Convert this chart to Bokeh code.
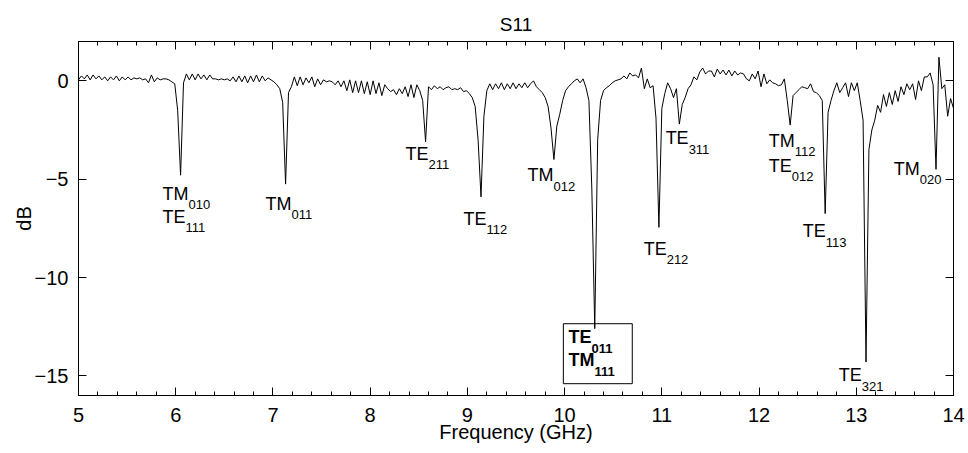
import numpy as np
from bokeh.plotting import figure
from bokeh.models import ColumnDataSource, LinearAxis, FixedTicker, Range1d, BoxAnnotation
from bokeh.embed import file_html
from bokeh.resources import INLINE
from bokeh.core.properties import value

# ---------------- data ----------------
# Swept S11 measurement: 301 points, 5.00 GHz to 14.00 GHz, 0.03 GHz step
freq_start_ghz = 5.0
freq_step_ghz = 0.03
s11_db = [
    # 5.00
    0.05, 0.25, 0.1, 0.3, 0.05, 0.3, 0.1, 0.25, 0.05, 0.2,
    # 5.30
    0.0, 0.2, 0.05, 0.25, 0.0, 0.2, 0.05, 0.2, 0.05, 0.15,
    # 5.60
    0.1, 0.15, 0.05, 0.1, -0.1, 0.3, -0.05, 0.15, 0.05, 0.1,
    # 5.90
    0.1, 0.05, -0.05, -0.15, -1.5, -4.8, -0.1, 0.35, 0.05, 0.35,
    # 6.20
    0.05, 0.35, 0.1, 0.3, 0.05, 0.3, 0.1, 0.1, 0.05, 0.1,
    # 6.50
    0.05, 0.1, 0.0, 0.2, -0.05, 0.25, -0.05, 0.25, -0.1, 0.25,
    # 6.80
    -0.05, 0.3, -0.05, 0.25, 0.0, 0.15, 0.05, -0.05, -0.2, -0.4,
    # 7.10
    -1.1, -5.25, -0.6, -0.3, 0.2, -0.25, 0.2, -0.2, 0.15, -0.1,
    # 7.40
    0.2, -0.3, 0.1, -0.2, 0.05, -0.05, 0.0, -0.05, -0.2, 0.0,
    # 7.70
    -0.3, 0.0, -0.5, 0.05, -0.6, 0.0, -0.6, 0.0, -0.65, -0.05,
    # 8.00
    -0.7, 0.0, -0.65, -0.1, -0.75, -0.2, -0.4, -0.55, -0.45, -0.7,
    # 8.30
    -0.4, -0.65, -0.3, -0.8, -0.2, -0.85, -0.2, -0.5, -1.0, -3.1,
    # 8.60
    -0.3, -0.45, -0.25, -0.4, -0.3, -0.45, -0.35, -0.3, -0.45, -0.4,
    # 8.90
    -0.45, -0.35, -0.55, -0.5, -0.65, -0.85, -1.3, -3.0, -5.9, -1.8,
    # 9.20
    -0.5, -0.15, -0.45, -0.15, -0.4, -0.1, -0.45, -0.15, -0.4, -0.1,
    # 9.50
    -0.4, -0.15, -0.35, -0.1, -0.35, -0.15, 0.0, -0.3, -0.45, -0.6,
    # 9.80
    -0.85, -1.3, -2.4, -4.0, -2.3, -1.7, -1.0, -0.5, -0.3, -0.15,
    # 10.10
    0.0, 0.1, -0.1, 0.1, -0.35, -1.0, -5.5, -12.6, -3.0, -1.0,
    # 10.40
    -0.5, -0.35, -0.25, -0.1, 0.0, 0.05, 0.1, 0.25, 0.1, 0.4,
    # 10.70
    0.25, 0.3, 0.15, 0.65, -0.4, 0.1, -0.35, -0.25, -1.9, -7.45,
    # 11.00
    -1.4, -0.65, -0.1, -0.4, -0.85, -0.4, -2.2, -1.2, -0.85, -0.4,
    # 11.30
    -0.2, 0.2, 0.05, 0.45, 0.65, 0.35, 0.5, 0.5, 0.2, 0.6,
    # 11.60
    0.35, 0.55, 0.3, 0.55, 0.25, 0.5, 0.3, 0.4, 0.35, 0.1,
    # 11.90
    0.0, 0.35, 0.1, 0.5, -0.3, 0.35, -0.15, 0.05, -0.1, -0.15,
    # 12.20
    -0.25, -0.2, 0.1, -1.0, -2.25, -0.75, -0.6, -0.45, -0.3, -0.35,
    # 12.50
    -0.4, -0.15, -0.55, -0.6, -0.75, -1.0, -6.75, -1.6, -1.0, -0.5,
    # 12.80
    -0.1, -0.6, -0.35, -0.1, -0.8, -0.1, -0.5, -0.1, -1.0, -2.0,
    # 13.10
    -14.3, -3.5, -2.5, -2.0, -1.25, -1.6, -0.7, -1.3, -0.6, -1.2,
    # 13.40
    -0.5, -1.05, -0.3, -0.7, -0.15, -0.45, -0.15, -0.95, 0.0, -0.5,
    # 13.70
    0.2, 0.2, 0.4, -0.2, -4.5, 1.2, -0.4, -0.2, -1.8, -0.9,
    # 14.00
    -1.4,
]
freq_ghz = [round(freq_start_ghz + freq_step_ghz * i, 2) for i in range(len(s11_db))]

# resonant mode labels (plain)
mode_letters = ["TM", "TE", "TM", "TE", "TE", "TM", "TE", "TE", "TM", "TE", "TE", "TE", "TM"]
mode_indices = ["010", "111", "011", "211", "112", "012", "212", "311", "112", "012", "113", "321", "020"]
# highlighted (boxed, bold) modes
hl_letters = ["TE", "TM"]
hl_indices = ["011", "111"]

x_ticks = [5, 6, 7, 8, 9, 10, 11, 12, 13, 14]
y_ticks = [-15, -10, -5, 0]

# ---------------- annotation positions (data coords) ----------------
mode_lx = [5.864, 5.864, 6.924, 8.364, 8.961, 9.619, 10.813, 11.039, 12.099, 12.099, 12.449, 12.819, 13.385]
mode_ly = [-5.73, -6.90, -6.24, -3.70, -7.00, -4.81, -8.53, -2.93, -3.04, -4.31, -7.66, -14.98, -4.46]
hl_lx = [10.041, 10.041]
hl_ly = [-13.03, -14.22]
sub_dx = {"TM": 26, "TE": 23}

FONT = "Liberation Sans"

p = figure(width=968, height=453, x_range=Range1d(5, 14), y_range=Range1d(-16, 2),
           output_backend="svg", toolbar_location=None,
           min_border_left=78, min_border_right=15, min_border_top=41, min_border_bottom=58)

p.title.text = "S11"
p.title.align = "center"
p.title.text_font = FONT
p.title.text_font_style = "normal"
p.title.text_font_size = "19px"
p.title.text_color = "black"
p.title.standoff = 13

p.grid.visible = False
p.outline_line_color = "black"
p.outline_line_alpha = 1.0
p.outline_line_width = 1
p.background_fill_color = "white"
p.border_fill_color = "white"

minor_x = [round(5 + 0.2 * k, 1) for k in range(46)]


def style_axis(ax, labels=True):
    ax.major_tick_in = 8
    ax.major_tick_out = 0
    ax.minor_tick_in = 4
    ax.minor_tick_out = 0
    ax.axis_line_color = "black"
    ax.major_tick_line_color = "black"
    ax.minor_tick_line_color = "black"
    ax.major_label_text_font = FONT
    ax.major_label_text_color = "black"
    ax.axis_label_text_font = FONT
    ax.axis_label_text_font_style = "normal"
    ax.axis_label_text_color = "black"
    ax.axis_label_text_font_size = "20px"
    if labels:
        ax.major_label_text_font_size = "20px"
    else:
        ax.major_label_text_font_size = "1px"
        ax.major_label_text_alpha = 0
        ax.major_label_standoff = 0


xa = p.xaxis[0]
xa.ticker = FixedTicker(ticks=x_ticks, minor_ticks=minor_x)
style_axis(xa)
xa.axis_label = "Frequency (GHz)"
xa.major_label_standoff = 12
xa.axis_label_standoff = -4

ya = p.yaxis[0]
ya.ticker = FixedTicker(ticks=y_ticks, minor_ticks=[])
style_axis(ya)
ya.axis_label = "dB"
ya.major_label_standoff = 10
ya.axis_label_standoff = -3
ya.major_label_overrides = {t: (str(t).replace("-", "\u2212")) for t in y_ticks}

top = LinearAxis(ticker=FixedTicker(ticks=x_ticks, minor_ticks=minor_x))
style_axis(top, labels=False)
p.add_layout(top, "above")

right = LinearAxis(ticker=FixedTicker(ticks=y_ticks, minor_ticks=[]))
style_axis(right, labels=False)
p.add_layout(right, "right")

src = ColumnDataSource(dict(f=freq_ghz, db=s11_db))
p.line("f", "db", source=src, line_color="black", line_width=1)

lab = ColumnDataSource(dict(x=mode_lx, y=mode_ly, main=mode_letters, sub=mode_indices,
                            dx=[sub_dx[m] for m in mode_letters]))
p.text(x="x", y="y", text="main", source=lab, text_font=value(FONT), text_font_size=value("18px"),
       text_baseline="middle", text_align="left", text_color="black")
p.text(x="x", y="y", text="sub", source=lab, x_offset="dx", y_offset=11, text_font=value(FONT),
       text_font_size=value("13px"), text_baseline="middle", text_align="left", text_color="black")

hl = ColumnDataSource(dict(x=hl_lx, y=hl_ly, main=hl_letters, sub=hl_indices,
                           dx=[sub_dx[m] for m in hl_letters]))
p.text(x="x", y="y", text="main", source=hl, text_font=value(FONT), text_font_size=value("18px"),
       text_font_style="bold", text_baseline="middle", text_align="left", text_color="black")
p.text(x="x", y="y", text="sub", source=hl, x_offset="dx", y_offset=11, text_font=value(FONT),
       text_font_size=value("13px"), text_font_style="bold", text_baseline="middle", text_align="left",
       text_color="black")

box = BoxAnnotation(left=9.987, right=10.696, top=-12.35, bottom=-15.40,
                    fill_alpha=0, line_color="black", line_width=1, line_alpha=1)
p.add_layout(box)

open("out.html", "w").write(file_html(p, INLINE))
